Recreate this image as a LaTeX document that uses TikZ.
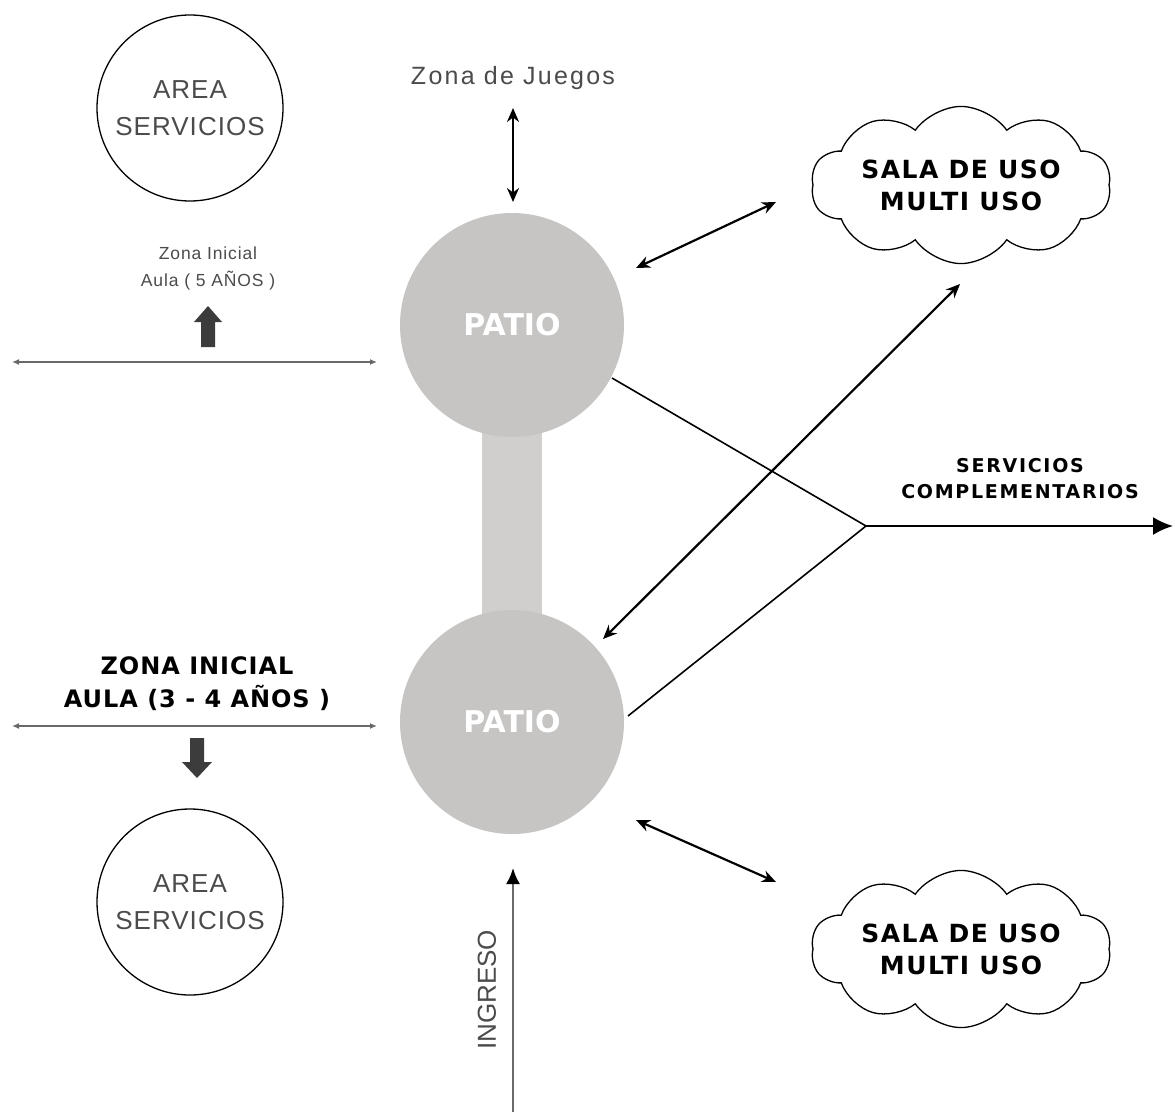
\documentclass[tikz,border=0pt]{standalone}
\usepackage{fontspec}
\setmainfont{Liberation Sans}
\newfontfamily\boldfam{DejaVu Sans}
\usetikzlibrary{shapes.symbols,arrows.meta}
\definecolor{patiogray}{RGB}{199,197,195}
\definecolor{bargray}{RGB}{208,207,205}
\definecolor{thinline}{RGB}{105,105,105}
\definecolor{blockgray}{RGB}{60,60,60}
\definecolor{lighttext}{RGB}{75,75,75}
\begin{document}
\begin{tikzpicture}[x=1pt,y=-1pt,
  areacircle/.style={circle,draw=black,line width=1.3pt,minimum size=186pt,inner sep=0pt,
    align=center,text=lighttext,font=\fontsize{26}{37}\selectfont\addfontfeature{LetterSpace=4}},
  patio/.style={circle,fill=patiogray,minimum size=224pt,inner sep=0pt,text=white,
    font=\boldfam\bfseries\fontsize{30}{36}\selectfont},
  sala/.style={cloud,draw=black,line width=1.3pt,cloud puffs=10,cloud puff arc=110,aspect=2.4,
    minimum width=300pt,minimum height=126pt,inner sep=0pt,align=center,
    font=\boldfam\bfseries\fontsize{25}{32}\selectfont\addfontfeature{LetterSpace=6}},
  dbl/.style={{Stealth[length=14pt,width=12pt]}-{Stealth[length=14pt,width=12pt]},line width=2.2pt},
  thindbl/.style={{Latex[length=7pt,width=6pt]}-{Latex[length=7pt,width=6pt]},line width=1.6pt,draw=thinline},
  plain/.style={line width=1.6pt},
  lbl/.style={inner sep=0pt,align=center}
]
\useasboundingbox (0,0) rectangle (1175,1113);
\fill[white] (0,0) rectangle (1175,1113);

% patios and bar
\coordinate (c1) at (512,325);
\coordinate (c2) at (512,722);
\draw[bargray,line width=60pt] (c1) -- (c2);
\node[patio] (patio1) at (c1) {PATIO};
\node[patio] (patio2) at (c2) {PATIO};

% area servicios
\node[areacircle] (area1) at (190,108) {AREA\\SERVICIOS};
\node[areacircle] (area2) at (190,902) {AREA\\SERVICIOS};

% clouds
\node[sala] (sala1) at (961,185) {SALA DE USO\\MULTI USO};
\node[sala] (sala2) at (961,949) {SALA DE USO\\MULTI USO};

% zona de juegos
\node[lbl,text=lighttext,font=\fontsize{25}{28}\selectfont\addfontfeature{LetterSpace=9}] (juegos) at (513,78) {Zona de Juegos};
\coordinate (j1) at (513,108);
\coordinate (j2) at (513,202);
\draw[dbl] (j1) -- (j2);

% zona inicial 5 anos
\node[lbl,text=lighttext,font=\fontsize{17.5}{27}\selectfont\addfontfeature{LetterSpace=5}] (zi5) at (208,268) {Zona Inicial\\Aula ( 5 AÑOS )};
\coordinate (h1a) at (12,362);
\coordinate (h1b) at (377,362);
\draw[thindbl] (h1a) -- (h1b);
\fill[blockgray] (201,347) -- (201,322) -- (194,322) -- (208,306) -- (222,322) -- (215,322) -- (215,347) -- cycle;

% zona inicial 3-4 anos
\node[lbl,font=\boldfam\bfseries\fontsize{24}{33}\selectfont\addfontfeature{LetterSpace=4}] (zi34) at (197,684) {ZONA INICIAL\\AULA (3 - 4 AÑOS )};
\coordinate (h2a) at (12,726);
\coordinate (h2b) at (377,726);
\draw[thindbl] (h2a) -- (h2b);
\fill[blockgray] (190,738) -- (190,762) -- (182,762) -- (197,778) -- (212,762) -- (204,762) -- (204,738) -- cycle;

% ingreso
\coordinate (in1) at (513,1112);
\coordinate (in2) at (513,868);
\draw[line width=2.2pt,draw=thinline,-{Latex[length=16pt,width=14pt,color=black]}] (in1) -- (in2);
\node[lbl,rotate=90,text=lighttext,font=\fontsize{26}{30}\selectfont] (ingreso) at (487,990) {INGRESO};

% double arrows to clouds
\coordinate (a1s) at (636,268);
\coordinate (a1e) at (776,202);
\draw[dbl] (a1s) -- (a1e);
\coordinate (a2s) at (636,820);
\coordinate (a2e) at (776,882);
\draw[dbl] (a2s) -- (a2e);
\coordinate (a3s) at (603,639);
\coordinate (a3e) at (960,284);
\draw[dbl] (a3s) -- (a3e);

% servicios complementarios
\coordinate (m) at (866,526);
\coordinate (l1) at (612,378);
\coordinate (l2) at (628,716);
\draw[plain] (l1) -- (m) -- (l2);
\coordinate (se) at (1173,526);
\draw[line width=2.2pt,-{Latex[length=20pt,width=18pt]}] (m) -- (se);
\node[lbl,font=\boldfam\bfseries\fontsize{19}{26}\selectfont\addfontfeature{LetterSpace=9}] (servc) at (1020,479) {SERVICIOS\\COMPLEMENTARIOS};
\end{tikzpicture}
\end{document}
